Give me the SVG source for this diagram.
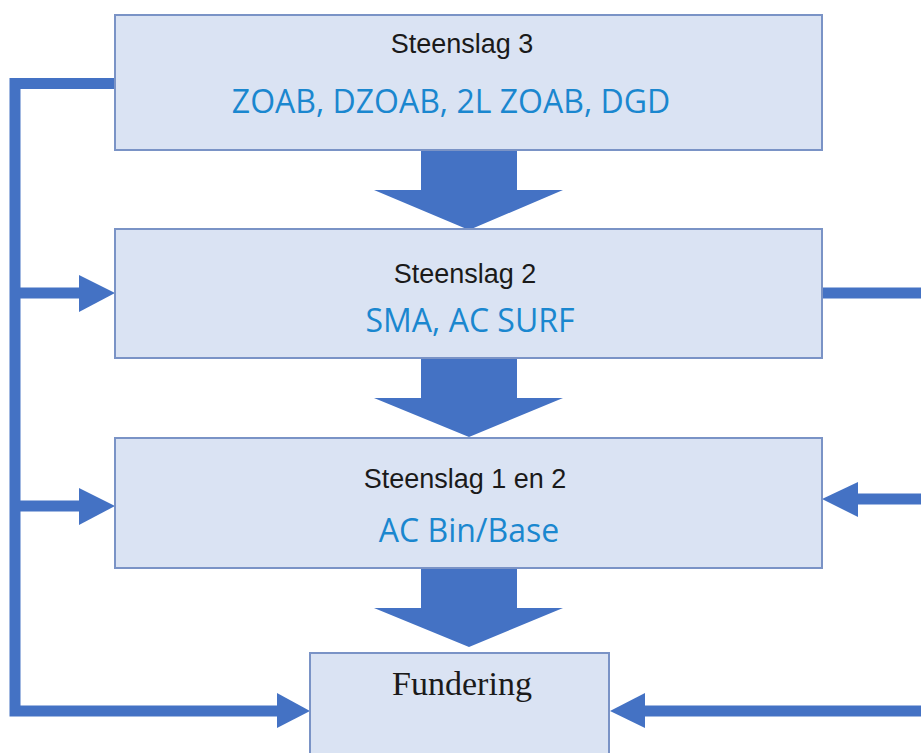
<svg xmlns="http://www.w3.org/2000/svg" width="921" height="753" viewBox="0 0 921 753">
<style>
.box{fill:#DAE3F3;stroke:#7A93C6;stroke-width:2}
.ln{fill:none;stroke:#4472C4;stroke-width:11;stroke-linejoin:miter}
.hd{fill:#4472C4}
.t1{font-family:"Liberation Sans",Arial,sans-serif;font-size:27px;fill:#1a1a1a;text-anchor:middle}
.t2{font-family:"Open Sans","Noto Sans",sans-serif;font-size:32px;fill:#1A87CF;text-anchor:middle}
.t3{font-family:"Liberation Serif","Times New Roman",serif;font-size:34px;fill:#1a1a1a;text-anchor:middle}
</style>
<rect width="921" height="753" fill="#FFFFFF"/>
<g id="connectors">
<path class="ln" d="M116,83.5 H15 V711 H280"/>
<path class="ln" d="M15,293 H82"/>
<path class="ln" d="M15,506 H82"/>
<polygon class="hd" points="79,275 115,293 79,312"/>
<polygon class="hd" points="79,488 115,506 79,525"/>
<polygon class="hd" points="277,693 310,711 277,728"/>
<path class="ln" d="M822,293 H921"/>
<path class="ln" d="M921,499 H855"/>
<polygon class="hd" points="858,482 822,499 858,517"/>
<path class="ln" d="M921,711 H642"/>
<polygon class="hd" points="645,693 610,711 645,728"/>
<polygon class="hd" points="421,150 517,150 517,190 563,190 469,230 374,190 421,190"/>
<polygon class="hd" points="421,358 517,358 517,398 563,398 469,437 374,398 421,398"/>
<polygon class="hd" points="421,568 517,568 517,608 563,608 469,647 374,608 421,608"/>
</g>
<g id="steenslag3">
<rect class="box" x="115" y="15" width="707" height="135"/>
<text class="t1" x="462" y="53">Steenslag 3</text>
<text class="t2" x="451" y="113">ZOAB, DZOAB, 2L ZOAB, DGD</text>
</g>
<g id="steenslag2">
<rect class="box" x="115" y="229" width="707" height="129"/>
<text class="t1" x="465" y="283">Steenslag 2</text>
<text class="t2" x="470" y="332">SMA, AC SURF</text>
</g>
<g id="steenslag12">
<rect class="box" x="115" y="438" width="707" height="130"/>
<text class="t1" x="465" y="488">Steenslag 1 en 2</text>
<text class="t2" x="469" y="542">AC Bin/Base</text>
</g>
<g id="fundering">
<rect class="box" x="310" y="653" width="299" height="110"/>
<text class="t3" x="462" y="695">Fundering</text>
</g>
</svg>
